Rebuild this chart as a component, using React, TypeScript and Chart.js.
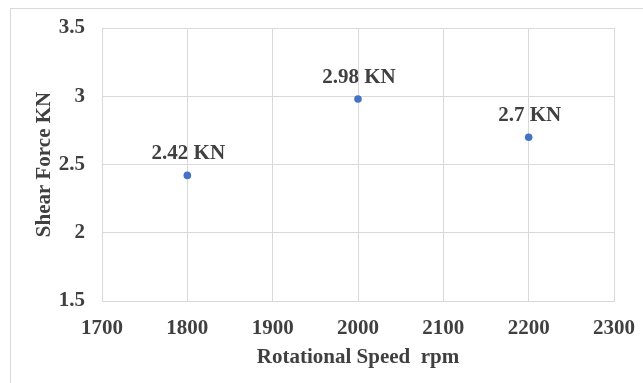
import { useEffect, useRef } from "react";
import { Chart, registerables } from "chart.js";

Chart.register(...registerables);

const speeds = [1800, 2000, 2200];
const shearForces = [2.42, 2.98, 2.7];
const xTickValues = [1700, 1800, 1900, 2000, 2100, 2200, 2300];
const yTickValues = [1.5, 2, 2.5, 3, 3.5];
const xTitle = "Rotational Speed  rpm";
const yTitle = "Shear Force KN";
const unit = " KN";

const FONT = "'Liberation Serif', 'Times New Roman', serif";
const TEXT = "#404040";
const GRID = "#d9d9d9";
const BLUE = "#4472C4";

const labelPlugin = {
  id: "pointValueLabels",
  afterDatasetsDraw(chart: any) {
    const ctx = chart.ctx;
    const meta = chart.getDatasetMeta(0);
    ctx.save();
    ctx.font = `bold 21px ${FONT}`;
    ctx.fillStyle = TEXT;
    ctx.textAlign = "center";
    ctx.textBaseline = "alphabetic";
    meta.data.forEach((pt: any, i: number) => {
      ctx.fillText(`${shearForces[i]}${unit}`, pt.x + 1, pt.y - 16);
    });
    ctx.restore();
  },
};

export default function App() {
  const ref = useRef<HTMLCanvasElement | null>(null);

  useEffect(() => {
    if (!ref.current) return;
    const chart = new Chart(ref.current, {
      type: "scatter",
      data: {
        datasets: [
          {
            data: speeds.map((s, i) => ({ x: s, y: shearForces[i] })),
            backgroundColor: BLUE,
            borderColor: BLUE,
            pointRadius: 3.8,
            pointHoverRadius: 3.8,
            borderWidth: 0,
          },
        ],
      },
      options: {
        responsive: false,
        animation: false,
        events: [],
        layout: { padding: { left: 0, top: 28, right: 29, bottom: 0 } },
        plugins: {
          legend: { display: false },
          tooltip: { enabled: false },
        },
        scales: {
          x: {
            type: "linear",
            position: "bottom",
            min: 1700,
            max: 2300,
            afterBuildTicks: (s: any) => {
              s.ticks = xTickValues.map((v) => ({ value: v }));
            },
            afterFit: (s: any) => {
              s.height = 82;
              s.paddingLeft = 0;
              s.paddingRight = 0;
            },
            ticks: {
              font: { family: FONT, size: 21, weight: "bold" },
              color: TEXT,
              padding: 15,
              maxRotation: 0,
              autoSkip: false,
              callback: (v: any) => String(v),
            },
            grid: { color: GRID, drawTicks: false, lineWidth: 1 },
            border: { color: GRID },
            title: {
              display: true,
              text: xTitle,
              font: { family: FONT, size: 21, weight: "bold" },
              color: TEXT,
              padding: { top: 0, bottom: 13 },
            },
          },
          y: {
            type: "linear",
            min: 1.5,
            max: 3.5,
            afterBuildTicks: (s: any) => {
              s.ticks = yTickValues.map((v) => ({ value: v }));
            },
            afterFit: (s: any) => {
              s.width = 102;
              s.paddingTop = 0;
              s.paddingBottom = 0;
            },
            ticks: {
              font: { family: FONT, size: 21, weight: "bold" },
              color: TEXT,
              padding: 17,
              callback: (v: any) => String(v),
            },
            grid: { color: GRID, drawTicks: false, lineWidth: 1 },
            border: { color: GRID },
            title: {
              display: true,
              text: yTitle,
              font: { family: FONT, size: 21, weight: "bold" },
              color: TEXT,
              padding: { top: 32, bottom: 0 },
            },
          },
        },
      },
      plugins: [labelPlugin],
    });
    return () => chart.destroy();
  }, []);

  return (
    <div style={{ position: "absolute", left: 0, top: 0, width: 643, height: 383, overflow: "hidden", background: "#fff" }}>
      <div
        style={{
          position: "absolute",
          left: 10,
          top: 8,
          width: 700,
          height: 400,
          borderTop: "1px solid #d9d9d9",
          borderLeft: "1px solid #d9d9d9",
        }}
      />
      <canvas
        ref={ref}
        width={643}
        height={383}
        style={{ position: "absolute", left: 0, top: 0, display: "block" }}
      />
    </div>
  );
}
